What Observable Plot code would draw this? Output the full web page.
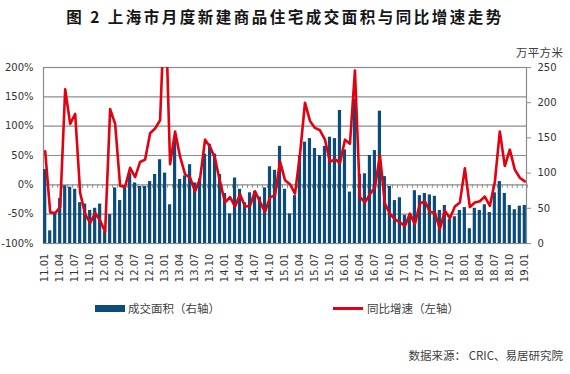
<!DOCTYPE html>
<html><head><meta charset="utf-8">
<script src="https://cdn.jsdelivr.net/npm/d3@7"></script>
<script src="https://cdn.jsdelivr.net/npm/@observablehq/plot@0.6"></script>
<style>
body{margin:0;background:#fff;}
#wrap{position:relative;width:570px;height:374px;overflow:hidden;font-family:"Noto Sans CJK SC",sans-serif;background:#fff;}
#title{position:absolute;left:0;top:5px;width:570px;text-align:center;font-size:15.5px;font-weight:bold;letter-spacing:2.5px;color:#151515;line-height:22px;white-space:nowrap;}
#chart{position:absolute;left:0;top:40px;}
#unit{position:absolute;left:516px;top:44px;font-size:11.5px;color:#404040;letter-spacing:0.3px;line-height:16px;}
.lg{position:absolute;top:300px;font-size:11.5px;color:#404040;line-height:16px;white-space:nowrap;}
.sw{position:absolute;}
#src{position:absolute;right:7px;top:347px;font-size:11.5px;color:#404040;line-height:16px;white-space:nowrap;}
</style>
</head><body>
<div id="wrap">
  <div id="title">图 2 上海市月度新建商品住宅成交面积与同比增速走势</div>
  <div id="chart"></div>
  <div id="unit">万平方米</div>
  <div class="sw" style="left:95px;top:305px;width:30px;height:7px;background:#0b4c7c"></div>
  <div class="lg" style="left:128px">成交面积（右轴）</div>
  <div class="sw" style="left:333px;top:307px;width:30px;height:2.5px;background:#e3000f"></div>
  <div class="lg" style="left:367px">同比增速（左轴）</div>
  <div id="src">数据来源：&nbsp;CRIC、易居研究院</div>
</div>
<script>
const months = [
"11.01","11.02","11.03","11.04","11.05","11.06","11.07","11.08","11.09","11.10","11.11","11.12",
"12.01","12.02","12.03","12.04","12.05","12.06","12.07","12.08","12.09","12.10","12.11","12.12",
"13.01","13.02","13.03","13.04","13.05","13.06","13.07","13.08","13.09","13.10","13.11","13.12",
"14.01","14.02","14.03","14.04","14.05","14.06","14.07","14.08","14.09","14.10","14.11","14.12",
"15.01","15.02","15.03","15.04","15.05","15.06","15.07","15.08","15.09","15.10","15.11","15.12",
"16.01","16.02","16.03","16.04","16.05","16.06","16.07","16.08","16.09","16.10","16.11","16.12",
"17.01","17.02","17.03","17.04","17.05","17.06","17.07","17.08","17.09","17.10","17.11","17.12",
"18.01","18.02","18.03","18.04","18.05","18.06","18.07","18.08","18.09","18.10","18.11","18.12",
"19.01"];
// 成交面积（万平方米，右轴）
const area = [
105,18,42,64,82,80,77,58,56,47,50,56,
17,41,79,61,80,100,86,81,81,88,98,119,
100,55,147,91,96,112,86,92,127,141,127,98,
71,42,93,77,58,72,74,66,79,109,104,138,
77,42,68,125,144,149,135,125,138,151,149,189,
133,73,205,98,99,125,132,188,95,81,61,65,
40,39,75,68,71,69,67,47,54,34,38,47,
51,21,50,47,55,44,72,88,71,54,48,53,
54];
// 同比增速（%，左轴）
const yoy = [
57,-47,-48,-38,163,104,121,-14,-50,-65,-48,-61,
-80,129,104,-2,-3,29,13,39,43,88,96,110,
330,35,91,48,18,12,-11,11,77,65,45,5,
-30,-21,-37,-16,-37,-36,-11,-29,-46,-21,-18,40,
8,1,-15,52,140,109,97,93,77,39,44,37,
77,70,195,-21,-30,-16,-4,50,-32,-49,-59,-64,
-70,-49,-67,-32,-28,-46,-48,-75,-44,-57,-37,-30,
28,-38,-30,-28,-20,-36,5,91,32,60,26,12,
6];
const xTickLabels = ["11.01","11.04","11.07","11.10","12.01","12.04","12.07","12.10",
"13.01","13.04","13.07","13.10","14.01","14.04","14.07","14.10","15.01","15.04","15.07","15.10",
"16.01","16.04","16.07","16.10","17.01","17.04","17.07","17.10","18.01","18.04","18.07","18.10","19.01"];
const leftTicks = [-100,-50,0,50,100,150,200];
const rightTicks = [0,50,100,150,200,250];

const data = months.map((m,i)=>({month:m, area:area[i], yoy:yoy[i]}));
const toL = v => v*300/250 - 100;   // right-axis units -> left-axis units
const toR = t => Math.round((t+100)*250/300);

const chart = Plot.plot({
  width:570, height:250,
  marginTop:27, marginBottom:47, marginLeft:43, marginRight:44,
  style:{fontFamily:"DejaVu Sans", fontSize:"10px", color:"#333", background:"white"},
  x:{type:"band", domain:months, paddingInner:0.36, paddingOuter:0.02},
  y:{domain:[-100,200]},
  marks:[
    Plot.ruleY(leftTicks, {stroke:"#8c8c8c", strokeWidth:1.2}),
    Plot.frame({stroke:"#8c8c8c", strokeWidth:1.2}),
    Plot.ruleX(months, {x:d=>d, y1:0, y2:-6, dx:2.5, stroke:"#8c8c8c", strokeWidth:1}),
    Plot.barY(data, {x:"month", y1:-100, y2:d=>toL(d.area), fill:"#0b4c7c"}),
    Plot.line(data, {x:"month", y:"yoy", stroke:"#e3000f", strokeWidth:2.6, strokeLinejoin:"round", clip:true}),
    Plot.axisY({anchor:"left", ticks:leftTicks, tickFormat:d=>d+"%", tickSize:0, tickPadding:10, label:null}),
    Plot.axisY({anchor:"right", ticks:rightTicks.map(toL), tickFormat:toR, tickSize:4, tickPadding:7, stroke:"#8c8c8c", label:null}),
    Plot.axisX({anchor:"bottom", ticks:xTickLabels, tickRotate:-90, tickSize:0, tickPadding:10, label:null})
  ]
});
document.getElementById("chart").appendChild(chart);
</script>
</body></html>
